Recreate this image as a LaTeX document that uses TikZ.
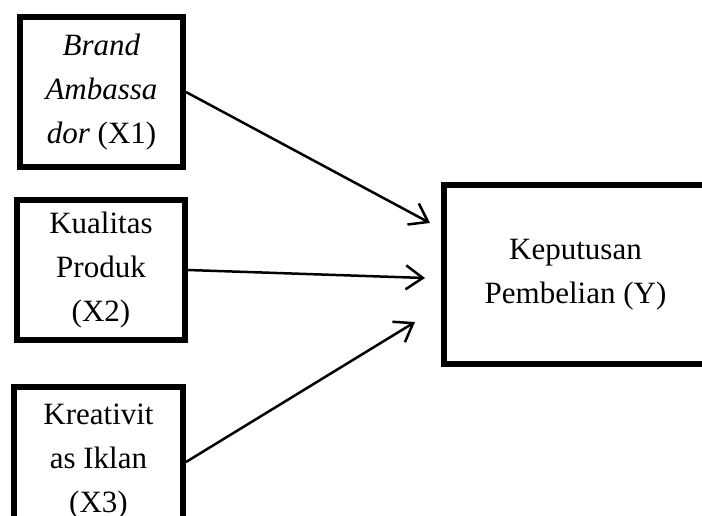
\documentclass[tikz,border=0pt]{standalone}
\usepackage{fontspec}
\setmainfont{Liberation Serif}
\usetikzlibrary{arrows.meta}

\begin{document}
\begin{tikzpicture}[x=1pt, y=-1pt,
    var/.style={draw=black, line width=6pt, align=center, inner sep=0pt, font=\fontsize{31}{44}\selectfont},
    link/.style={line width=2.5pt, draw=black, -{Straight Barb[length=17pt, width=24pt]}}
]
    \useasboundingbox (0,0) rectangle (702,515);

    % --- Left: independent variables ---
    \node[var, minimum width=163pt, minimum height=150pt] (x1) at (101.5,92) {\textit{Brand}\\\textit{Ambassa}\\\textit{dor} (X1)};
    \node[var, minimum width=168pt, minimum height=140pt] (x2) at (101,270) {Kualitas\\Produk\\(X2)};
    \node[var, minimum width=169pt, minimum height=150pt] (x3) at (98.5,462) {Kreativit\\as Iklan\\(X3)};

    % --- Right: dependent variable ---
    \node[var, minimum width=263pt, minimum height=179pt] (y) at (575.5,274.5) {Keputusan\\Pembelian (Y)};

    % Arrow ends
    \coordinate (in1) at (430,223);
    \coordinate (in2) at (425,278);
    \coordinate (in3) at (415,322);

    \draw[link] (x1.east) -- (in1);
    \draw[link] (x2.east) -- (in2);
    \draw[link] (x3.east) -- (in3);

\end{tikzpicture}
\end{document}
